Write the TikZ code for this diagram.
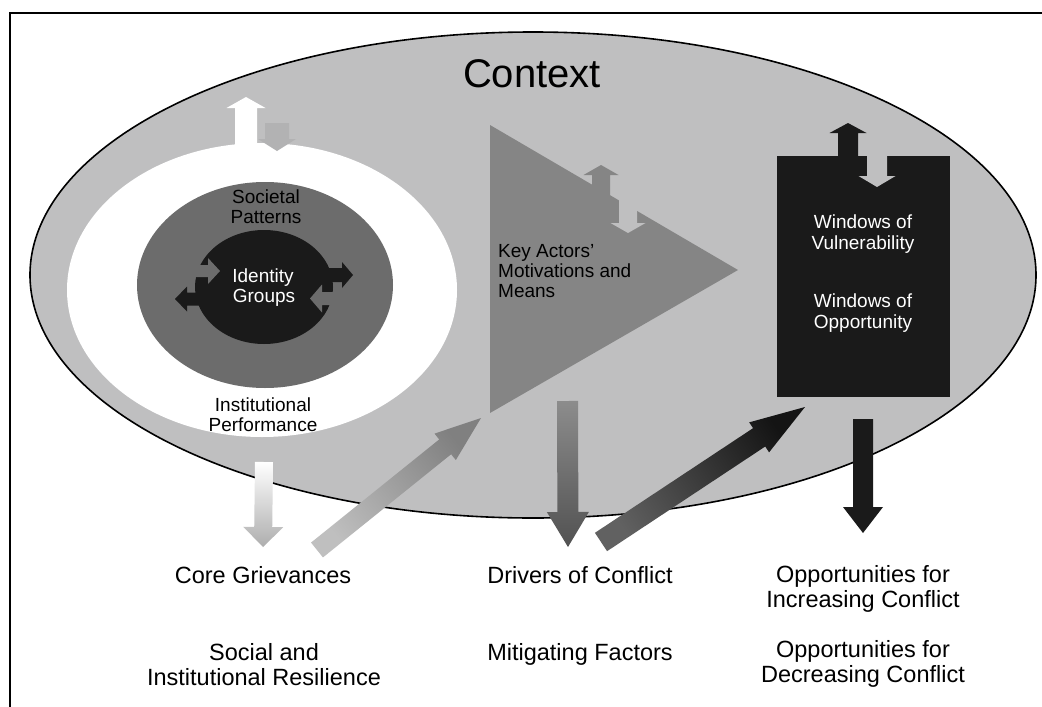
\documentclass[tikz,border=0pt]{standalone}
\usepackage{fontspec}
\setmainfont{Liberation Sans}
\usetikzlibrary{calc}
\definecolor{ctx}{RGB}{191,191,192}
\definecolor{ctxd}{RGB}{178,178,179}
\definecolor{tri}{RGB}{133,133,133}
\definecolor{dk}{RGB}{108,108,108}
\definecolor{blk}{RGB}{26,26,26}
% #1 tail, #2 tip, #3 half shaft width, #4 half head width, #5 head length, #6 style
\newcommand\fatarrow[6]{%
  \coordinate (fah) at ($(#2)!#5!(#1)$);
  \path[#6] ($(#1)!#3!90:(#2)$) -- ($(fah)!#3!90:(#2)$) -- ($(fah)!#4!90:(#2)$) -- (#2)
    -- ($(fah)!#4!-90:(#2)$) -- ($(fah)!#3!-90:(#2)$) -- ($(#1)!#3!-90:(#2)$) -- cycle;
}
\tikzset{
  small/.style={font=\fontsize{19}{20}\selectfont, anchor=base, inner sep=0pt},
  large/.style={font=\fontsize{23.5}{25}\selectfont, anchor=base, inner sep=0pt},
  title/.style={font=\fontsize{40}{44}\selectfont, anchor=base, inner sep=0pt},
}
\begin{document}
\begin{tikzpicture}[x=1pt,y=-1pt]
\useasboundingbox (0,0) rectangle (1042,707);
\fill[white] (0,0) rectangle (1042,707);
\draw[line width=2pt] (10,707) -- (10,13) -- (1042,13);

% context ellipse
\coordinate (ctxc) at (533,275);
\filldraw[fill=ctx, draw=black, line width=1.6pt] (ctxc) ellipse [x radius=503pt, y radius=243pt];

% ring / societal / identity
\coordinate (ringc) at (262,290);
\fill[white] (ringc) ellipse [x radius=195pt, y radius=147pt];
\coordinate (socc) at (265,285);
\fill[dk] (socc) ellipse [x radius=128pt, y radius=103pt];
\coordinate (idc) at (264,287);
\fill[blk] (idc) ellipse [x radius=69pt, y radius=57pt];

% identity arrows
\coordinate (i1t) at (194,271); \coordinate (i1h) at (220,271);
\fatarrow{i1t}{i1h}{6pt}{13pt}{12pt}{fill=dk}
\coordinate (i2t) at (207,299); \coordinate (i2h) at (175,299);
\fatarrow{i2t}{i2h}{6.5pt}{12.5pt}{12pt}{fill=blk}
\coordinate (i3t) at (322,275); \coordinate (i3h) at (353,275);
\fatarrow{i3t}{i3h}{7pt}{13pt}{11pt}{fill=blk}
\coordinate (i4t) at (336,298.5); \coordinate (i4h) at (310,298.5);
\fatarrow{i4t}{i4h}{6.5pt}{14pt}{12pt}{fill=dk}

% ring double arrow
\coordinate (r1t) at (246,160); \coordinate (r1h) at (246,97);
\fatarrow{r1t}{r1h}{11pt}{19.5pt}{11pt}{fill=white}
\coordinate (r2t) at (277,123); \coordinate (r2h) at (277,151);
\fatarrow{r2t}{r2h}{12pt}{19pt}{12pt}{fill=ctxd}

% triangle
\fill[tri] (490,125) coordinate (trA) -- (738,270) coordinate (trB) -- (490,413) coordinate (trC) -- cycle;
\coordinate (t1t) at (601,200); \coordinate (t1h) at (601,165);
\fatarrow{t1t}{t1h}{9pt}{17.5pt}{10pt}{fill=tri}
\coordinate (t2t) at (628,195); \coordinate (t2h) at (628,233);
\fatarrow{t2t}{t2h}{9pt}{17.5pt}{10pt}{fill=ctx}

% windows box
\fill[blk] (777,156) coordinate (wbA) rectangle (950,397) coordinate (wbB);
\coordinate (w1t) at (848,162); \coordinate (w1h) at (848,123);
\fatarrow{w1t}{w1h}{10pt}{18.5pt}{10pt}{fill=blk}
\coordinate (w2t) at (877,152); \coordinate (w2h) at (877,187);
\fatarrow{w2t}{w2h}{10pt}{18.5pt}{11pt}{fill=ctx}

% texts in the ellipse
\node[title] (context) at (532,87) {Context};
\node[small] (soc1) at (266,203) {Societal};
\node[small] (soc2) at (266,223) {Patterns};
\node[small, text=white] (id1) at (263,282) {Identity};
\node[small, text=white] (id2) at (264,302) {Groups};
\node[small] (inst1) at (263,411) {Institutional};
\node[small] (inst2) at (263,431) {Performance};
\node[small, anchor=base west] (ka1) at (498,257) {Key Actors’};
\node[small, anchor=base west] (ka2) at (498,277) {Motivations and};
\node[small, anchor=base west] (ka3) at (498,297) {Means};
\node[small, text=white] (wv1) at (863,228) {Windows of};
\node[small, text=white] (wv2) at (863,249) {Vulnerability};
\node[small, text=white] (wo1) at (863,307) {Windows of};
\node[small, text=white] (wo2) at (863,328) {Opportunity};

% bottom texts
\node[large] (core) at (263,583) {Core Grievances};
\node[large] (res1) at (264,660) {Social and};
\node[large] (res2) at (264,685) {Institutional Resilience};
\node[large] (drv) at (580,583) {Drivers of Conflict};
\node[large] (mit) at (580,660) {Mitigating Factors};
\node[large] (inc1) at (863,582) {Opportunities for};
\node[large] (inc2) at (863,607) {Increasing Conflict};
\node[large] (dec1) at (863,657) {Opportunities for};
\node[large] (dec2) at (863,682) {Decreasing Conflict};

% bottom arrows
\coordinate (b1t) at (264,462); \coordinate (b1h) at (263,547);
\fatarrow{b1t}{b1h}{9pt}{20pt}{20pt}{shade, top color=white, bottom color=black!32}
\coordinate (b2t) at (317,550); \coordinate (b2h) at (481,418);
\fatarrow{b2t}{b2h}{9.5pt}{17pt}{46pt}{shade, top color=black!25, bottom color=black!50, shading angle=128.8}
\coordinate (b3t) at (567.5,401); \coordinate (b3h) at (568,547);
\fatarrow{b3t}{b3h}{10.5pt}{21pt}{35pt}{shade, top color=black!45, bottom color=black!68}
\coordinate (b4t) at (601,542); \coordinate (b4h) at (805,407);
\fatarrow{b4t}{b4h}{11pt}{18pt}{55pt}{shade, top color=black!62, bottom color=black!92, shading angle=123.5}
\coordinate (b5t) at (863,419); \coordinate (b5h) at (863,533);
\fatarrow{b5t}{b5h}{10pt}{20pt}{26pt}{fill=blk}
\end{tikzpicture}
\end{document}
